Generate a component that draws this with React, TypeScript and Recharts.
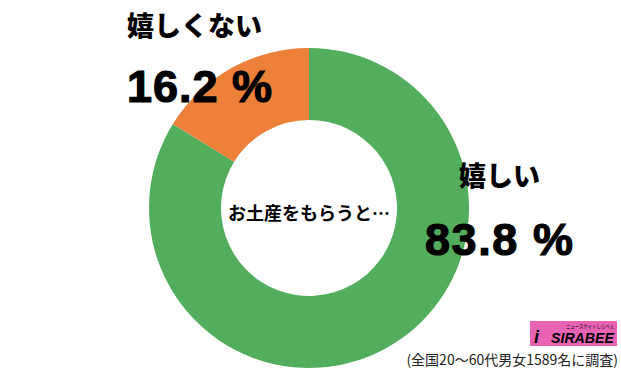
import React from 'react';
import { PieChart, Pie, Cell } from 'recharts';

const answers = ['嬉しい', '嬉しくない'];
const shares = [83.8, 16.2];
const sliceColors = ['#52ad5d', '#ee8139'];
const question = 'お土産をもらうと…';
const note = '(全国20〜60代男女1589名に調査)';

const data = answers.map((name, i) => ({ name, value: shares[i] }));

const W = 621;
const H = 373;
const CX = 309;
const CY = 208;

const jp = "'Noto Sans CJK JP', 'Noto Sans', sans-serif";
const num = "'Liberation Sans', Arial, 'Noto Sans CJK JP', sans-serif";

// where each slice's name and value sit
const labelPos = [
  { x: 459, nameY: 186, valueX: 425, valueY: 255, valueW: 148 },
  { x: 127, nameY: 36, valueX: 127, valueY: 102, valueW: 145 },
];

export default function App() {
  return (
    <div style={{ position: 'fixed', left: 0, top: 0, width: W, height: H, background: '#fff' }}>
      <PieChart width={W} height={H} margin={{ top: 0, right: 0, bottom: 0, left: 0 }}>
        <Pie
          data={data}
          dataKey="value"
          nameKey="name"
          cx={CX}
          cy={CY}
          innerRadius={88}
          outerRadius={160}
          startAngle={90}
          endAngle={-270}
          stroke="none"
          isAnimationActive={false}
        >
          {data.map((d, i) => (
            <Cell key={d.name} fill={sliceColors[i]} />
          ))}
        </Pie>
      </PieChart>
      <svg width={W} height={H} style={{ position: 'absolute', left: 0, top: 0, pointerEvents: 'none' }}>
        {data.map((d, i) => (
          <g key={d.name}>
            <text x={labelPos[i].x} y={labelPos[i].nameY} fontFamily={jp} fontWeight={900} fontSize={27} fill="#000">
              {d.name}
            </text>
            <text
              x={labelPos[i].valueX}
              y={labelPos[i].valueY}
              fontFamily={num}
              fontWeight={700}
              fontSize={45}
              fill="#000"
              stroke="#000"
              strokeWidth={1.2}
              textLength={labelPos[i].valueW}
              lengthAdjust="spacing"
            >
              {d.value.toFixed(1)} %
            </text>
          </g>
        ))}
        <text x={CX} y={220} textAnchor="middle" fontFamily={jp} fontWeight={700} fontSize={18} fill="#000">
          {question}
        </text>
        <text x={618} y={365} textAnchor="end" fontFamily={jp} fontSize={14} fill="#222">
          {note}
        </text>
        <rect x={530} y={321} width={87} height={25} fill="#e963b4" />
        <text x={566} y={328} fontFamily={jp} fontSize={5} fill="#000" textLength={48} lengthAdjust="spacingAndGlyphs">
          ニュースサイトしらべぇ
        </text>
        <text x={551} y={343} fontFamily={num} fontStyle="italic" fontWeight={700} fontSize={15} fill="#000" textLength={63} lengthAdjust="spacingAndGlyphs">
          SIRABEE
        </text>
        <text x={534} y={343} fontFamily={num} fontStyle="italic" fontWeight={700} fontSize={18} fill="#000">
          i
        </text>
      </svg>
    </div>
  );
}
